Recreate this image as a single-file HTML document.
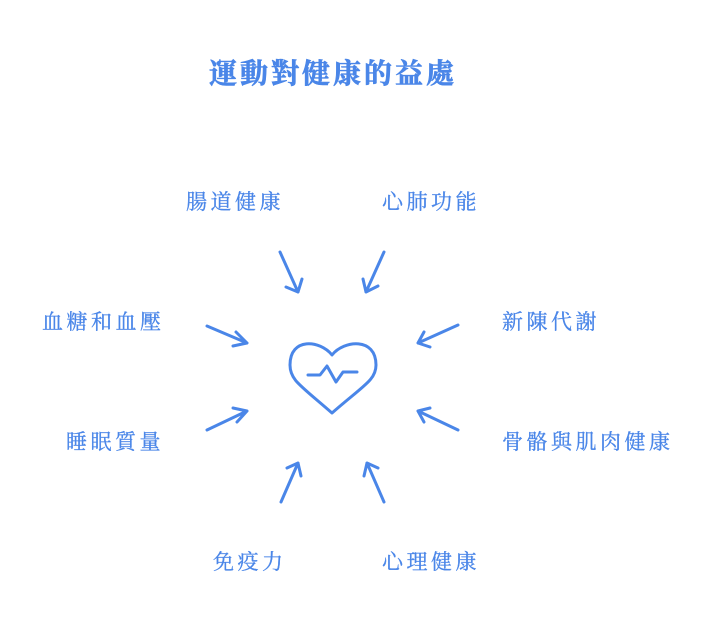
<!DOCTYPE html>
<html><head><meta charset="utf-8"><style>
html,body{margin:0;padding:0;background:#fff;width:710px;height:635px;overflow:hidden}
svg text{font-family:"Liberation Serif","Noto Serif CJK SC","Noto Sans CJK TC",serif;fill:#4a86e8}
</style></head><body>
<svg width="710" height="635" viewBox="0 0 710 635">
<text x="333" y="83" font-size="28" font-weight="bold" text-anchor="middle" letter-spacing="3" stroke="#4a86e8" stroke-width="0.6">運動對健康的益處</text>
<g font-size="21" letter-spacing="3.5" stroke="#4a86e8" stroke-width="0.3">
<text x="186" y="209">腸道健康</text>
<text x="382" y="209">心肺功能</text>
<text x="42" y="329">血糖和血壓</text>
<text x="502" y="329">新陳代謝</text>
<text x="66" y="449">睡眠質量</text>
<text x="502" y="449">骨骼與肌肉健康</text>
<text x="213" y="569">免疫力</text>
<text x="382" y="569">心理健康</text>
</g>
<g stroke="#4a86e8" stroke-width="3" fill="none" stroke-linecap="round" stroke-linejoin="round">
<path d="M280 252 L298 292 M286 287 L298 292 L302 279"/>
<path d="M384 252 L366 292 M363 279 L366 292 L378 286"/>
<path d="M458 325 L418 343 M424 332 L418 343 L430 347"/>
<path d="M458 430 L418 411 M424 422 L418 411 L430 408"/>
<path d="M281 502 L298 463 M287 468 L298 463 L301 476"/>
<path d="M384 502 L367 463 M364 476 L367 463 L378 468"/>
<path d="M207 326 L247 343 M236 332 L247 343 L233 346"/>
<path d="M207 430 L247 411 M233 408 L247 411 L237 422"/>
<path d="M332 355 C320 340 290 337 290 365 C290 380 300 385 332 413 C364 385 376 380 376 365 C376 337 344 340 332 355 Z"/>
<path d="M308 375 L320 375 L327 366 L336 382 L343 372 L357 372"/>
</g>
</svg>
</body></html>
